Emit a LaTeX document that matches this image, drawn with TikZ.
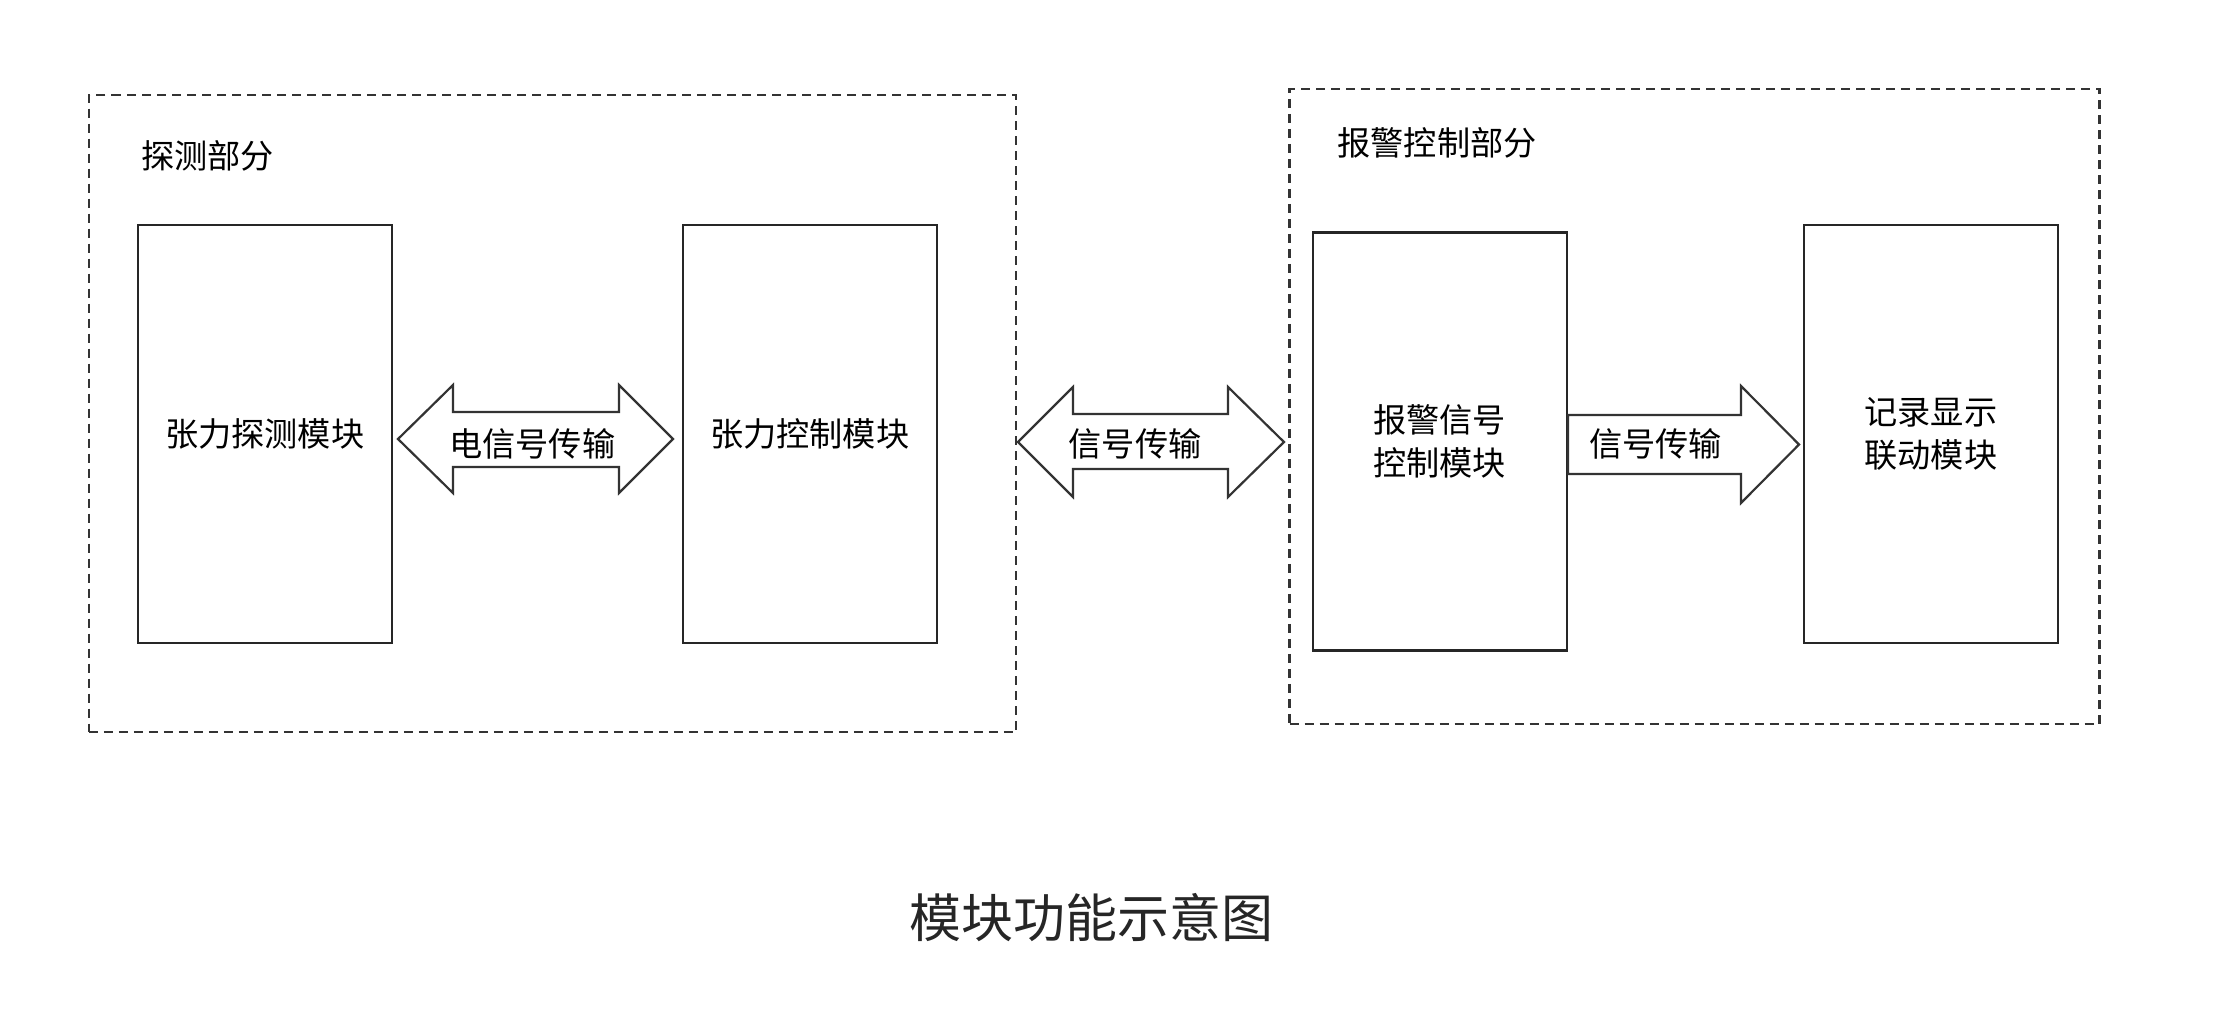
\documentclass[tikz,border=0pt]{standalone}
\usepackage{fontspec}
\setmainfont{Noto Sans CJK SC}
\begin{document}
\begin{tikzpicture}[x=0.5pt,y=-0.5pt,
  groupbox/.style={draw=black!80, line width=1.2pt, dash pattern=on 4.5pt off 3pt, inner sep=0pt, anchor=north west},
  modbox/.style={draw=black!85, line width=1.2pt, inner sep=0pt, minimum width=127pt, minimum height=209.15pt, align=center,
    font=\fontsize{16.6}{21.75}\selectfont, text=black},
  arrowshape/.style={draw=black!80, line width=1.1pt, line join=miter, fill=white},
  lbl/.style={inner sep=0pt, font=\fontsize{16.6}{21.75}\selectfont, text=black},
  caption/.style={inner sep=0pt, font=\fontsize{26}{30}\selectfont, text=black!85}]
\useasboundingbox (0,0) rectangle (2228,1029);
\fill[white] (0,0) rectangle (2228,1029);

% group boxes
\node[groupbox, minimum width=463.65pt, minimum height=318.5pt] (gL) at (87.7,94) {};
\node[groupbox, minimum width=405pt, minimum height=317.5pt] (gR) at (1288.3,87.7) {};
\node[lbl] (tL) at (207.5,156) {探测部分};
\node[lbl] (tR) at (1437,143) {报警控制部分};

% module boxes
\node[modbox] (A) at (264.7,434) {张力探测模块};
\node[modbox] (B) at (809.7,434) {张力控制模块};
\node[modbox] (C) at (1439.7,441.5) {报警信号\\控制模块};
\node[modbox] (D) at (1930.9,434) {记录显示\\联动模块};

% double arrow between A and B
\draw[arrowshape] (398,439) -- (453,385) -- (453,412) -- (619,412) -- (619,385) -- (673,439)
  -- (619,493) -- (619,467) -- (453,467) -- (453,493) -- cycle;
\node[lbl] (a1) at (532.2,444) {电信号传输};

% double arrow between the groups
\draw[arrowshape] (1018,442) -- (1073,387) -- (1073,414) -- (1228,414) -- (1228,387) -- (1284,442)
  -- (1228,497) -- (1228,469) -- (1073,469) -- (1073,497) -- cycle;
\node[lbl] (a2) at (1135,444) {信号传输};

% single arrow from C to D
\coordinate (c3t) at (C.east |- 0,415);
\coordinate (c3b) at (C.east |- 0,474);
\draw[arrowshape] (c3t) -- (1741,415) -- (1741,386) -- (1799,444.5) -- (1741,503) -- (1741,474) -- (c3b) -- cycle;
\node[lbl] (a3) at (1655.7,444) {信号传输};

% caption
\node[caption] (cap) at (1091,917.5) {模块功能示意图};
\end{tikzpicture}
\end{document}
